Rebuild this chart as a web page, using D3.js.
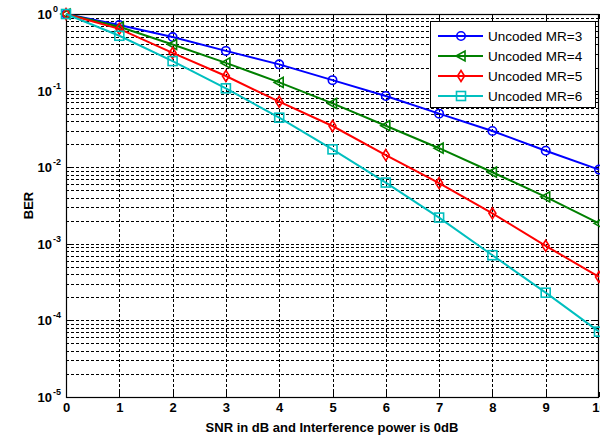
<!DOCTYPE html>
<html><head><meta charset="utf-8">
<script src="https://cdn.jsdelivr.net/npm/d3@7"></script>
<style>body{margin:0;background:#fff;}svg{display:block;}</style>
</head><body>
<svg id="c" width="600" height="440"></svg>
<script>
const snr = [0,1,2,3,4,5,6,7,8,9,10];
const mr3 = [1,0.72,0.50,0.33,0.22,0.137,0.085,0.050,0.0297,0.0164,0.0093];
const mr4 = [1,0.68,0.40,0.23,0.128,0.068,0.0348,0.0177,0.0086,0.0041,0.00185];
const mr5 = [1,0.64,0.31,0.155,0.0716,0.0345,0.0144,0.0062,0.0025,0.00094,0.00037];
const mr6 = [1,0.52,0.243,0.107,0.0443,0.0171,0.0063,0.0022,0.00071,0.00023,0.0000713];
const seriesNames = ["Uncoded MR=3","Uncoded MR=4","Uncoded MR=5","Uncoded MR=6"];
const xTicks = [0,1,2,3,4,5,6,7,8,9,10];
const yExps = [0,-1,-2,-3,-4,-5];

const colors = ["#0000ff","#008000","#ff0000","#00bfbf"];
const markers = ["circle","triLeft","diamond","square"];
const data = [mr3,mr4,mr5,mr6];

const svg = d3.select("#c");
const L=66, R=599, T=14, B=397;
const x = d3.scaleLinear().domain([0,10]).range([L,R]);
const y = d3.scaleLog().domain([1e-5,1]).range([B,T]);

const g = svg.append("g");
// grid
const minor = [];
for (let e=-5;e<0;e++) for (let k=1;k<=9;k++) minor.push(k*Math.pow(10,e));
minor.push(1);
g.selectAll(".hg").data(minor.filter(v=>v>1e-5 && v<1)).enter().append("line")
 .attr("x1",L).attr("x2",R).attr("y1",d=>Math.round(y(d))+0.5).attr("y2",d=>Math.round(y(d))+0.5)
 .attr("stroke","#000").attr("stroke-width",1).attr("stroke-dasharray","3,2");
g.selectAll(".vg").data(xTicks.filter(v=>v>0&&v<10)).enter().append("line")
 .attr("y1",T).attr("y2",B).attr("x1",d=>Math.round(x(d))+0.5).attr("x2",d=>Math.round(x(d))+0.5)
 .attr("stroke","#000").attr("stroke-width",1).attr("stroke-dasharray","3,2");

// ticks (inside)
xTicks.forEach(t=>{
  const px=Math.round(x(t))+0.5;
  g.append("line").attr("x1",px).attr("x2",px).attr("y1",B).attr("y2",B-5).attr("stroke","#000");
  g.append("line").attr("x1",px).attr("x2",px).attr("y1",T).attr("y2",T+5).attr("stroke","#000");
});
minor.forEach(v=>{
  const py=Math.round(y(v))+0.5;
  const major = Math.abs(Math.log10(v)-Math.round(Math.log10(v)))<1e-9;
  const len = major?5:3;
  g.append("line").attr("x1",L).attr("x2",L+len).attr("y1",py).attr("y2",py).attr("stroke","#000");
  g.append("line").attr("x1",R).attr("x2",R-len).attr("y1",py).attr("y2",py).attr("stroke","#000");
});

// axes box
g.append("rect").attr("x",L+0.5).attr("y",T+0.5).attr("width",R-L-1).attr("height",B-T)
 .attr("fill","none").attr("stroke","#000").attr("stroke-width",1.2);

// x axis labels via d3 axis (text only)
const xa = svg.append("g").attr("transform",`translate(0,${B})`)
 .call(d3.axisBottom(x).tickValues(xTicks).tickSize(0).tickPadding(6).tickFormat(d3.format("d")));
xa.select(".domain").remove();
xa.selectAll("text").attr("font-family","Liberation Sans, Arial, sans-serif").attr("font-size",13)
 .attr("font-weight","bold").attr("fill","#000");

// y labels
const yl = svg.append("g");
yExps.forEach(e=>{
  const py = y(Math.pow(10,e));
  const t = yl.append("text").attr("x",52).attr("y",py+5).attr("text-anchor","end")
   .attr("font-family","Liberation Sans, Arial, sans-serif").attr("font-size",13).attr("font-weight","bold");
  t.text("10");
  yl.append("text").attr("x",53).attr("y",py-2).attr("font-family","Liberation Sans, Arial, sans-serif")
   .attr("font-size",9).attr("font-weight","bold").text(String(e));
});

svg.append("text").attr("transform",`translate(33,${(T+B)/2}) rotate(-90)`).attr("text-anchor","middle")
 .attr("font-family","Liberation Sans, Arial, sans-serif").attr("font-size",13).attr("font-weight","bold").text("BER");
svg.append("text").attr("x",332).attr("y",432).attr("text-anchor","middle")
 .attr("font-family","Liberation Sans, Arial, sans-serif").attr("font-size",13).attr("font-weight","bold")
 .text("SNR in dB and Interference power is 0dB");

function drawMarker(sel, type, cx, cy, color){
  if(type==="circle") sel.append("circle").attr("cx",cx).attr("cy",cy).attr("r",4.2);
  else if(type==="square") sel.append("rect").attr("x",cx-4.5).attr("y",cy-4.5).attr("width",9).attr("height",9);
  else if(type==="diamond") sel.append("path").attr("d",`M${cx},${cy-5.5}L${cx+3.5},${cy}L${cx},${cy+5.5}L${cx-3.5},${cy}Z`);
  else if(type==="triLeft") sel.append("path").attr("d",`M${cx-5},${cy}L${cx+4},${cy-5}L${cx+4},${cy+5}Z`);
}

const clip = svg.append("clipPath").attr("id","pc").append("rect").attr("x",0).attr("y",0).attr("width",600).attr("height",B+1);
const line = d3.line().x((d,i)=>x(snr[i])).y(d=>y(d));
data.forEach((s,si)=>{
  const sg = svg.append("g");
  sg.append("path").datum(s).attr("d",line).attr("fill","none").attr("stroke",colors[si]).attr("stroke-width",2);
  const mg = sg.append("g").attr("fill","none").attr("stroke",colors[si]).attr("stroke-width",1.6);
  s.forEach((v,i)=>drawMarker(mg, markers[si], x(snr[i]), y(v), colors[si]));
});

// legend
const lg = svg.append("g");
lg.append("rect").attr("x",430.5).attr("y",21.5).attr("width",165).attr("height",86).attr("fill","#fff").attr("stroke","#000").attr("stroke-width",1);
seriesNames.forEach((n,i)=>{
  const ly = 36 + i*20;
  lg.append("line").attr("x1",438).attr("x2",483).attr("y1",ly).attr("y2",ly).attr("stroke",colors[i]).attr("stroke-width",2);
  const mg = lg.append("g").attr("fill","none").attr("stroke",colors[i]).attr("stroke-width",1.6);
  drawMarker(mg, markers[i], 461, ly, colors[i]);
  lg.append("text").attr("x",488).attr("y",ly+5).attr("font-family","Liberation Sans, Arial, sans-serif")
   .attr("font-size",13.5).attr("fill","#000").text(n);
});
</script>
</body></html>
